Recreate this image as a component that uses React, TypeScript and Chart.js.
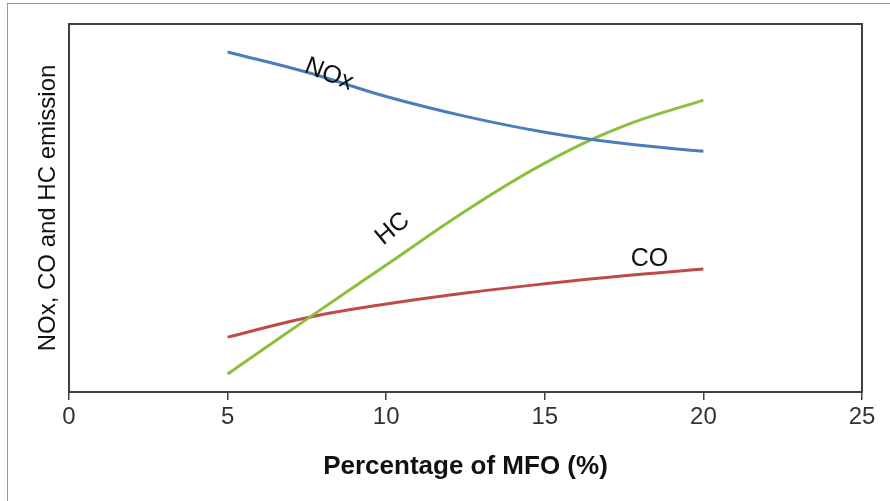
import React, { useEffect, useRef } from "react";
import { Chart, registerables } from "chart.js";

Chart.register(...registerables);

const mfo = [5, 7.5, 10, 12.5, 15, 17.5, 20];
const noxValues = [92.4, 86.9, 80.3, 74.9, 70.6, 67.5, 65.4];
const hcValues = [4.9, 19.8, 34.5, 49.2, 62.2, 72.3, 79.3];
const coValues = [14.9, 20.2, 23.9, 26.9, 29.4, 31.6, 33.4];
const xTicks = [0, 5, 10, 15, 20, 25];

const curveLabels = [
  { text: "NOx", x: 8.2, y: 86.3, angle: 22 },
  { text: "HC", x: 10.2, y: 44.3, angle: -40 },
  { text: "CO", x: 18.3, y: 36.2, angle: 0 },
];

const FONT = "'Liberation Sans', Arial, sans-serif";

const frameAndLabels = {
  id: "frameAndLabels",
  afterDatasetsDraw(chart: any) {
    const { ctx, chartArea, scales } = chart;
    ctx.save();
    ctx.strokeStyle = "#404040";
    ctx.lineWidth = 2;
    ctx.strokeRect(chartArea.left, chartArea.top, chartArea.right - chartArea.left, chartArea.bottom - chartArea.top);
    ctx.fillStyle = "#111";
    ctx.font = "25px " + FONT;
    ctx.textAlign = "center";
    ctx.textBaseline = "middle";
    curveLabels.forEach((l) => {
      const px = scales.x.getPixelForValue(l.x);
      const py = scales.y.getPixelForValue(l.y);
      ctx.save();
      ctx.translate(px, py);
      ctx.rotate((l.angle * Math.PI) / 180);
      ctx.fillText(l.text, 0, 0);
      ctx.restore();
    });
    ctx.restore();
  },
};

export default function App() {
  const ref = useRef<HTMLCanvasElement>(null);
  useEffect(() => {
    const toPts = (vals: number[]) => mfo.map((x, i) => ({ x, y: vals[i] }));
    const chart = new Chart(ref.current!, {
      type: "line",
      data: {
        datasets: [
          { label: "NOx", data: toPts(noxValues), borderColor: "#4a7ebb", borderWidth: 3, pointRadius: 0, tension: 0.4 },
          { label: "HC", data: toPts(hcValues), borderColor: "#8dbf3f", borderWidth: 3, pointRadius: 0, tension: 0.4 },
          { label: "CO", data: toPts(coValues), borderColor: "#be4b48", borderWidth: 3, pointRadius: 0, tension: 0.4 },
        ],
      },
      options: {
        animation: false,
        responsive: false,
        layout: { padding: { left: 30, top: 24, right: 28, bottom: 0 } },
        plugins: { legend: { display: false }, tooltip: { enabled: false } },
        scales: {
          x: {
            type: "linear",
            min: 0,
            max: 25,
            afterBuildTicks: (s: any) => {
              s.ticks = xTicks.map((v) => ({ value: v }));
            },
            afterFit: (s: any) => {
              s.height = 109;
            },
            grid: { drawOnChartArea: false, drawTicks: true, tickLength: 8, color: "#404040", lineWidth: 1.5 },
            border: { color: "#404040", width: 2 },
            ticks: { color: "#333", font: { family: FONT, size: 24 }, padding: 3, maxRotation: 0 },
            title: {
              display: true,
              text: "Percentage of MFO (%)",
              color: "#111",
              font: { family: FONT, size: 26, weight: "bold" },
              padding: { top: 0, bottom: 19 },
            },
          },
          y: {
            min: 0,
            max: 100,
            afterFit: (s: any) => {
              s.width = 39;
            },
            grid: { display: false },
            border: { color: "#404040", width: 2 },
            ticks: { display: false },
            title: {
              display: true,
              text: "NOx, CO and HC emission",
              color: "#111",
              font: { family: FONT, size: 24 },
              padding: { top: 4, bottom: 0 },
            },
          },
        },
      },
      plugins: [frameAndLabels],
    } as any);
    return () => chart.destroy();
  }, []);
  return (
    <div style={{ position: "fixed", left: 0, top: 0, width: 890, height: 501, background: "#fff" }}>
      <div style={{ position: "absolute", left: 7, top: 3, right: 0, bottom: 0, borderLeft: "1px solid #999", borderTop: "1px solid #999" }} />
      <canvas ref={ref} width={890} height={501} style={{ position: "absolute", left: 0, top: 0 }} />
    </div>
  );
}
